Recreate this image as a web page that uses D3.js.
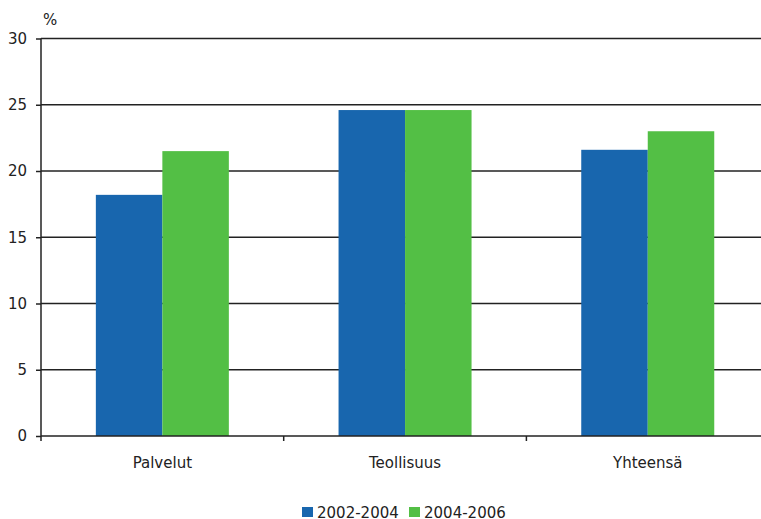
<!DOCTYPE html>
<html>
<head>
<meta charset="utf-8">
<script src="https://cdn.jsdelivr.net/npm/d3@7"></script>
<style>
  body { margin: 0; background: #fff; }
  svg text { font-family: "DejaVu Sans", sans-serif; fill: #222; }
</style>
</head>
<body>
<div id="chart"></div>
<script>
var categories = ["Palvelut", "Teollisuus", "Yhteensä"];
var seriesNames = ["2002-2004", "2004-2006"];
var series1 = [18.2, 24.6, 21.6];
var series2 = [21.5, 24.6, 23.0];
var yTicks = [0, 5, 10, 15, 20, 25, 30];
var colors = ["#1866ae", "#53bf45"];

function drawChart() {
  var W = 761, H = 519;
  var left = 41, plotTop = 38.5, bottom = 436, step = 242.7;

  var svg = d3.select("#chart").append("svg")
    .attr("width", W).attr("height", H);

  var x = d3.scaleBand()
    .domain(categories)
    .range([left, left + step * 3])
    .paddingInner(0.452)
    .paddingOuter(0.226);

  var xs = d3.scaleBand()
    .domain(seriesNames)
    .range([0, x.bandwidth()]);

  var y = d3.scaleLinear().domain([0, 30]).range([bottom, plotTop]);

  // gridlines
  svg.append("g").selectAll("line")
    .data(yTicks.filter(function(d){ return d > 0; }))
    .enter().append("line")
    .attr("x1", left).attr("x2", W)
    .attr("y1", function(d){ return y(d); })
    .attr("y2", function(d){ return y(d); })
    .attr("stroke", "#222").attr("stroke-width", 1.5);

  // bars
  var rows = categories.map(function(c, i){
    return { cat: c, vals: [series1[i], series2[i]] };
  });
  var grp = svg.selectAll(".grp").data(rows).enter().append("g")
    .attr("transform", function(d){ return "translate(" + x(d.cat) + ",0)"; });
  grp.selectAll("rect")
    .data(function(d){ return d.vals.map(function(v, j){ return { s: seriesNames[j], v: v, j: j }; }); })
    .enter().append("rect")
    .attr("x", function(d){ return xs(d.s); })
    .attr("width", xs.bandwidth())
    .attr("y", function(d){ return y(d.v); })
    .attr("height", function(d){ return bottom - y(d.v); })
    .attr("fill", function(d){ return colors[d.j]; });

  // y axis
  var yAxis = svg.append("g")
    .attr("transform", "translate(" + left + ",0)")
    .call(d3.axisLeft(y).tickValues(yTicks).tickSize(5).tickPadding(9));
  yAxis.select(".domain").remove();
  yAxis.append("line").attr("x1", 0).attr("x2", 0)
    .attr("y1", plotTop).attr("y2", bottom + 5)
    .attr("stroke", "#222").attr("stroke-width", 1.5);
  yAxis.selectAll(".tick line").attr("stroke", "#222").attr("stroke-width", 1.5);
  yAxis.selectAll(".tick text").attr("font-size", 15).attr("font-family", "DejaVu Sans").attr("fill", "#222");

  svg.append("text").attr("x", 43).attr("y", 25).attr("font-size", 15).text("%");

  // x axis
  svg.append("line").attr("x1", left).attr("x2", W)
    .attr("y1", bottom).attr("y2", bottom)
    .attr("stroke", "#222").attr("stroke-width", 1.5);
  svg.append("g").selectAll("line")
    .data(categories.slice(1))
    .enter().append("line")
    .attr("x1", function(d){ return x(d) - x.step() * x.paddingInner() / 2; })
    .attr("x2", function(d){ return x(d) - x.step() * x.paddingInner() / 2; })
    .attr("y1", bottom).attr("y2", bottom + 5)
    .attr("stroke", "#222").attr("stroke-width", 1.5);
  svg.append("g").selectAll("text")
    .data(categories)
    .enter().append("text")
    .attr("x", function(d){ return x(d) + x.bandwidth() / 2; })
    .attr("y", 468)
    .attr("text-anchor", "middle")
    .attr("font-size", 15)
    .text(function(d){ return d; });

  // legend
  var legX = [302, 409];
  var leg = svg.append("g").selectAll("g")
    .data(seriesNames).enter().append("g")
    .attr("transform", function(d, i){ return "translate(" + legX[i] + ",507)"; });
  leg.append("rect").attr("width", 11).attr("height", 10)
    .attr("fill", function(d, i){ return colors[i]; });
  leg.append("text").attr("x", 15).attr("y", 10.5).attr("font-size", 15)
    .text(function(d){ return d; });
}

drawChart();
</script>
</body>
</html>
